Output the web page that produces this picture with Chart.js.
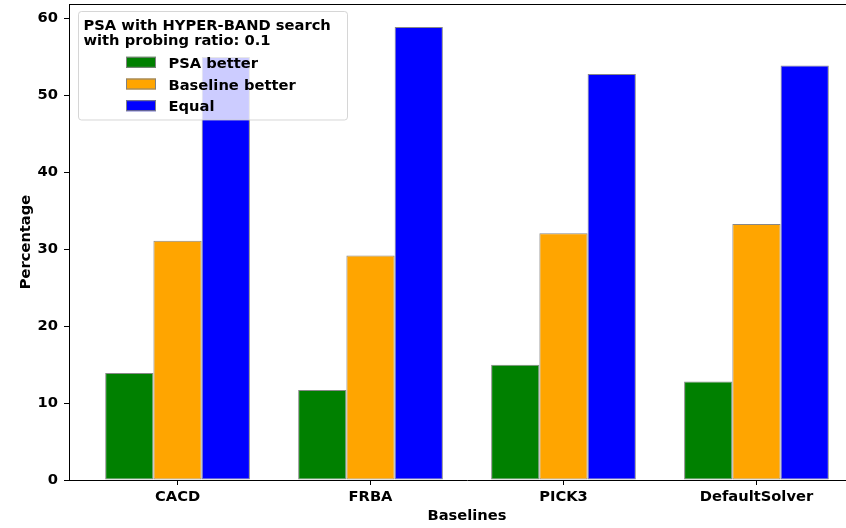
<!DOCTYPE html>
<html>
<head>
<meta charset="utf-8">
<script src="https://cdn.jsdelivr.net/npm/chart.js@4.4.1/dist/chart.umd.min.js"></script>
<style>
  html, body { margin: 0; padding: 0; overflow: hidden; background: #fff; width: 846px; height: 528px; }
  #wrap { width: 880px; height: 528px; }
</style>
</head>
<body>
<div id="wrap"><canvas id="c" width="880" height="528"></canvas></div>
<script>
// Baselines compared against PSA, percentage of instances per outcome
const categories = ['CACD', 'FRBA', 'PICK3', 'DefaultSolver'];
const seriesNames = ['PSA better', 'Baseline better', 'Equal'];
const psaBetter = [13.9, 11.7, 15.0, 12.8];
const baselineBetter = [31.1, 29.2, 32.1, 33.3];
const equal = [55.0, 58.9, 52.8, 53.9];
const yTicks = [0, 10, 20, 30, 40, 50, 60];
const legendTitle = ['PSA with HYPER-BAND search', 'with probing ratio: 0.1'];

const seriesColors = ['#008000', '#FFA500', '#0000FF'];
const FONT_FAMILY = '"DejaVu Sans", sans-serif';
const FONT_SIZE = 14.7;
const font = { family: FONT_FAMILY, size: FONT_SIZE, weight: 'bold' };

const toPoints = vals => vals.map((v, i) => ({ x: i, y: v }));
const seriesValues = [psaBetter, baselineBetter, equal];

// Top frame line of the axes box
const frameLine = {
  id: 'frameLine',
  afterDatasetsDraw(chart) {
    const { ctx, chartArea } = chart;
    ctx.save();
    ctx.strokeStyle = '#000';
    ctx.lineWidth = 1;
    ctx.beginPath();
    ctx.moveTo(chartArea.left, Math.round(chartArea.top) + 0.5);
    ctx.lineTo(chartArea.right, Math.round(chartArea.top) + 0.5);
    ctx.stroke();
    ctx.restore();
  }
};

// Boxed legend with a two-line title, drawn inside the plot's upper left corner
const boxLegend = {
  id: 'boxLegend',
  afterDraw(chart) {
    const { ctx, chartArea } = chart;
    const x0 = chartArea.left + 9, y0 = chartArea.top + 7;
    const w = 269, h = 108.5, r = 3;
    ctx.save();
    ctx.beginPath();
    ctx.roundRect(x0 + 0.5, y0 + 0.5, w, h, r);
    ctx.fillStyle = 'rgba(255,255,255,0.8)';
    ctx.fill();
    ctx.strokeStyle = 'rgba(204,204,204,0.8)';
    ctx.lineWidth = 1;
    ctx.stroke();

    ctx.fillStyle = '#000';
    ctx.font = `bold ${FONT_SIZE}px ${FONT_FAMILY}`;
    ctx.textBaseline = 'alphabetic';
    ctx.textAlign = 'left';
    ctx.fillText(legendTitle[0], x0 + 5.5, y0 + 18.5);
    ctx.fillText(legendTitle[1], x0 + 5.5, y0 + 33.5);

    chart.data.datasets.forEach((ds, i) => {
      const base = y0 + 56.8 + i * 21.7;
      ctx.fillStyle = ds.backgroundColor;
      ctx.fillRect(x0 + 48, base - 11, 30, 11);
      ctx.strokeStyle = '#808080';
      ctx.strokeRect(x0 + 48.5, base - 10.5, 29, 10);
      ctx.fillStyle = '#000';
      ctx.fillText(ds.label, x0 + 90.5, base);
    });
    ctx.restore();
  }
};

new Chart(document.getElementById('c'), {
  type: 'bar',
  data: {
    datasets: seriesNames.map((name, i) => ({
      label: name,
      data: toPoints(seriesValues[i]),
      backgroundColor: seriesColors[i],
      borderColor: '#888888',
      borderWidth: 1,
      borderSkipped: false,
      categoryPercentage: 0.75,
      barPercentage: 1.0
    }))
  },
  options: {
    responsive: false,
    animation: false,
    devicePixelRatio: 1,
    layout: { padding: { top: 4, right: 15, left: 0, bottom: 0 } },
    plugins: { legend: { display: false }, tooltip: { enabled: false } },
    scales: {
      x: {
        type: 'linear',
        min: -0.5625,
        max: 3.5625,
        offset: false,
        afterBuildTicks: axis => { axis.ticks = categories.map((_, i) => ({ value: i })); },
        afterFit: s => { s.height = 48; s.paddingLeft = 0; s.paddingRight = 0; },
        ticks: {
          callback: v => categories[v],
          font, color: '#000', padding: 3, maxRotation: 0, autoSkip: false
        },
        grid: { display: true, drawOnChartArea: false, drawTicks: true, tickLength: 5, color: '#000', offset: false },
        border: { display: true, color: '#000', width: 1 },
        title: { display: true, text: 'Baselines', font, color: '#000', padding: { top: 0, bottom: 3 } }
      },
      y: {
        min: 0,
        max: 61.9,
        afterBuildTicks: axis => { axis.ticks = yTicks.map(v => ({ value: v })); },
        afterFit: s => { s.width = 69; s.paddingTop = 0; s.paddingBottom = 0; },
        ticks: { font, color: '#000', padding: 6 },
        grid: { display: true, drawOnChartArea: false, drawTicks: true, tickLength: 5, color: '#000' },
        border: { display: true, color: '#000', width: 1 },
        title: { display: true, text: 'Percentage', font, color: '#000', padding: { top: 17, bottom: 0 } }
      }
    }
  },
  plugins: [frameLine, boxLegend]
});
</script>
</body>
</html>
